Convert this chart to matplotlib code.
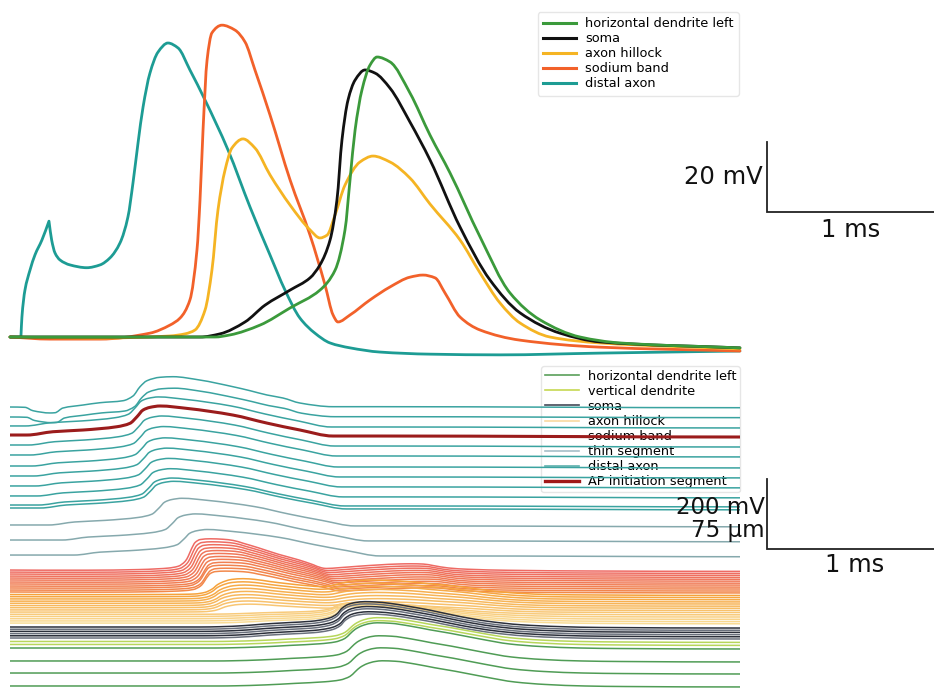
import numpy as np
import matplotlib.pyplot as plt
import matplotlib.colors as mcolors
from matplotlib.lines import Line2D
from matplotlib.path import Path
from matplotlib.patches import PathPatch, Rectangle

''' Membrane potential in five compartments (time in ms, voltage in mV) '''
dend_t = [0.000, 1.220, 1.310, 1.488, 1.667, 1.845, 1.935, 1.994, 2.024, 2.054,
          2.095, 2.143, 2.185, 2.262, 2.381, 2.500, 2.619, 2.798, 2.976, 3.155,
          3.393, 3.631, 4.345]
dend_v = [-70.0, -70.0, -69.4, -66.6, -61.7, -56.6, -50.9, -39.4, -25.1, -10.9,
          0.6, 7.7, 10.0, 8.6, -0.3, -12.3, -23.1, -41.4, -57.4, -65.1,
          -70.0, -71.7, -73.1]

soma_t = [0.000, 1.131, 1.250, 1.399, 1.518, 1.667, 1.786, 1.845, 1.905, 1.946,
          1.976, 2.012, 2.054, 2.113, 2.173, 2.262, 2.381, 2.500, 2.679, 2.857,
          3.036, 3.274, 3.512, 4.345]
soma_v = [-70.0, -70.0, -69.1, -65.7, -60.9, -56.6, -53.1, -49.4, -42.3, -30.9,
          -13.7, -2.3, 3.4, 6.3, 5.4, 1.1, -8.6, -19.4, -38.6, -53.7,
          -63.1, -68.9, -71.4, -73.1]

hillock_t = [0.000, 0.536, 0.952, 1.042, 1.101, 1.161, 1.202, 1.238, 1.280, 1.321,
             1.387, 1.458, 1.548, 1.667, 1.786, 1.845, 1.887, 1.935, 1.994, 2.083,
             2.161, 2.262, 2.381, 2.500, 2.679, 2.798, 2.917, 3.036, 3.214, 3.512,
             4.345]
hillock_v = [-70.0, -70.3, -69.7, -69.1, -68.0, -62.3, -50.9, -33.7, -22.3, -16.0,
             -13.4, -16.0, -23.7, -32.3, -39.4, -41.7, -40.9, -35.1, -26.6, -20.0,
             -18.3, -20.0, -24.6, -32.0, -42.3, -51.7, -60.3, -66.0, -70.0, -71.7,
             -73.4]

sodium_t = [0.000, 0.238, 0.536, 0.833, 0.952, 1.012, 1.071, 1.113, 1.131, 1.149,
            1.173, 1.202, 1.262, 1.339, 1.399, 1.458, 1.548, 1.667, 1.786, 1.875,
            1.923, 1.952, 2.024, 2.143, 2.262, 2.381, 2.458, 2.530, 2.589, 2.679,
            2.798, 3.036, 3.512, 4.345]
sodium_v = [-70.0, -70.6, -70.6, -68.9, -66.6, -64.6, -59.4, -45.1, -30.9, -10.9,
            9.1, 16.9, 19.1, 17.7, 14.3, 6.3, -6.6, -25.1, -40.9, -55.1,
            -63.7, -65.7, -63.7, -59.4, -55.7, -52.9, -52.3, -53.1, -57.4, -64.3,
            -68.0, -70.9, -72.9, -74.0]

distal_t = [0.000, 0.065, 0.071, 0.089, 0.119, 0.149, 0.190, 0.232, 0.248, 0.268,
            0.298, 0.357, 0.457, 0.536, 0.595, 0.655, 0.702, 0.732, 0.762, 0.792,
            0.833, 0.881, 0.940, 1.000, 1.071, 1.161, 1.298, 1.429, 1.548, 1.637,
            1.726, 1.815, 1.905, 2.024, 2.202, 2.500, 2.917, 3.512, 4.345]
distal_v = [-70.0, -70.0, -64.3, -56.6, -50.9, -46.5, -42.3, -36.9, -42.3, -46.0,
            -48.0, -49.4, -50.2, -49.4, -47.4, -43.1, -35.7, -26.0, -14.6, -4.3,
            5.4, 11.4, 14.0, 12.6, 6.3, -2.3, -16.6, -32.9, -46.6, -56.6,
            -64.6, -68.9, -71.7, -73.1, -74.3, -74.9, -75.1, -74.6, -74.0]
distal_kinks = [1, 7]   # stimulus onset and the spikelet tip

v_rest = -70.0

# Axonal compartments above the initiation site (deflection from rest, mV)
far_axon_t = [0.000, 0.089, 0.137, 0.238, 0.268, 0.315, 0.435, 0.536, 0.673, 0.732,
              0.774, 0.815, 0.893, 0.970, 1.131, 1.327, 1.429, 1.530, 1.625, 1.726,
              1.923, 2.202, 4.345]
far_axon_dv = [0.0, -0.9, -10.6, -17.0, -16.3, -2.9, 5.7, 12.3, 18.0, 31.4,
               58.0, 75.1, 84.9, 86.6, 77.0, 58.0, 46.6, 34.3, 25.7, 11.4,
               0.9, 0.9, -2.0]

init_t = [0.000, 0.101, 0.256, 0.435, 0.637, 0.714, 0.756, 0.792, 0.833, 0.893,
          1.054, 1.327, 1.530, 1.726, 1.923, 2.202, 4.345]
init_dv = [0.0, 0.0, 9.4, 14.3, 23.7, 33.4, 52.3, 71.4, 79.0, 82.9,
           76.0, 57.0, 34.0, 14.3, -2.9, -2.9, -5.7]

# Compartments along the cell: region, position (um), waveform, delay (ms), gain
comp_region = (['distal axon'] * 3 + ['AP initiation segment'] + ['distal axon'] * 8
               + ['thin segment'] * 3 + ['sodium band'] * 12 + ['axon hillock'] * 14
               + ['soma'] * 6 + ['vertical dendrite'] * 2
               + ['horizontal dendrite left'] * 4)
comp_pos = [310.7, 300.0, 290.4, 280.7, 270.0, 259.3, 247.5, 236.8, 226.1, 215.4,
            205.7, 202.5,
            184.3, 168.2, 152.1,
            136.1, 133.9, 131.8, 129.6, 127.5, 125.4, 123.2, 121.1, 118.9, 116.8,
            114.6, 112.5,
            109.8, 107.5, 105.1, 102.7, 100.4, 98.0, 95.7, 93.3, 91.0, 88.6,
            86.3, 83.9, 81.5, 79.2,
            75.0, 72.6, 70.3, 67.9, 65.6, 63.2,
            59.5, 56.3,
            52.5, 38.6, 25.7, 11.8]
comp_wave = (['far axon'] * 2 + ['initiation'] * 13 + ['sodium band'] * 12
             + ['axon hillock'] * 9 + ['soma'] * 5 + ['soma'] * 6
             + ['dendrite'] * 6)
comp_delay = [0.00, 0.01, -0.01, 0.00, 0.01, 0.02, 0.03, 0.04, 0.05, 0.06,
              0.07, 0.08,
              0.13, 0.21, 0.28,
              -0.07, -0.06, -0.05, -0.04, -0.03, -0.02, -0.01, 0.00, 0.01, 0.01,
              0.02, 0.02,
              0.00, 0.00, 0.01, 0.01, 0.02, 0.02, 0.03, 0.03, 0.04,
              -0.03, -0.03, -0.02, -0.02, -0.01,
              0.00, 0.00, 0.01, 0.01, 0.02, 0.02,
              0.00, 0.00,
              0.00, 0.01, 0.02, 0.03]
comp_gain = [1.00, 0.95, 1.00, 1.00, 1.00, 0.98, 0.97, 0.96, 0.95, 0.94,
             0.93, 0.92,
             0.92, 0.90, 0.88,
             1.00, 0.97, 0.94, 0.91, 0.88, 0.85, 0.82, 0.79, 0.76, 0.73,
             0.70, 0.67,
             0.80, 0.75, 0.70, 0.65, 0.60, 0.55, 0.50, 0.45, 0.40,
             0.45, 0.50, 0.55, 0.60, 0.65,
             0.95, 0.95, 0.93, 0.93, 0.90, 0.90,
             0.85, 0.85,
             0.90, 0.90, 0.90, 0.90]

waves = {
    'far axon': (far_axon_t, far_axon_dv),
    'initiation': (init_t, init_dv),
    'sodium band': (sodium_t, np.array(sodium_v) - v_rest),
    'axon hillock': (hillock_t, np.array(hillock_v) - v_rest),
    'soma': (soma_t, np.array(soma_v) - v_rest),
    'dendrite': (dend_t, np.array(dend_v) - v_rest),
}

''' Styles '''
top_colors = {'horizontal dendrite left': '#3b9a3b', 'soma': '#111111',
              'axon hillock': '#f5b423', 'sodium band': '#f2612a',
              'distal axon': '#1d9c94'}
region_colors = {'horizontal dendrite left': ('#4f9c55', '#4f9c55'),
                 'vertical dendrite': ('#b7d65a', '#b7d65a'),
                 'soma': ('#2b2f3a', '#6a707c'),
                 'axon hillock': ('#f6a23a', '#f9dc96'),
                 'sodium band': ('#ee6a64', '#f2884a'),
                 'thin segment': ('#86a9ad', '#86a9ad'),
                 'distal axon': ('#3aa3a0', '#3aa3a0'),
                 'AP initiation segment': ('#9b1c1c', '#9b1c1c')}
legend_colors = {'horizontal dendrite left': '#5aa05a',
                 'vertical dendrite': '#c6d852',
                 'soma': '#444a58', 'axon hillock': '#f9d9a0',
                 'sodium band': '#ef6f60', 'thin segment': '#a6bfc8',
                 'distal axon': '#5fb0ad', 'AP initiation segment': '#a01818'}

um_per_mv = 75 / 200   # vertical scale of the voltage traces in the lower panel
t_end = 4.345


''' Functions '''
def smooth_path(x, y, kinks=()):
    # Cubic Bezier through every sample, monotone (PCHIP style) tangents;
    # at kink samples the curve keeps the slopes of its two neighbouring chords
    x = np.asarray(x, dtype=float)
    y = np.asarray(y, dtype=float)
    h = np.diff(x)
    d = np.diff(y) / h
    m = np.zeros_like(y)
    m[0], m[-1] = d[0], d[-1]
    for k in range(1, len(y) - 1):
        if d[k - 1] * d[k] > 0:
            w1 = 2 * h[k] + h[k - 1]
            w2 = h[k] + 2 * h[k - 1]
            m[k] = (w1 + w2) / (w1 / d[k - 1] + w2 / d[k])
    m_in, m_out = m.copy(), m.copy()
    for k in kinks:
        m_in[k], m_out[k] = d[k - 1], d[k]
    verts = [(x[0], y[0])]
    codes = [Path.MOVETO]
    for k in range(len(x) - 1):
        verts += [(x[k] + h[k] / 3, y[k] + m_out[k] * h[k] / 3),
                  (x[k + 1] - h[k] / 3, y[k + 1] - m_in[k + 1] * h[k] / 3),
                  (x[k + 1], y[k + 1])]
        codes += [Path.CURVE4] * 3
    return Path(verts, codes)


def draw_trace(ax, x, y, color, lw, zorder=2, kinks=()):
    patch = PathPatch(smooth_path(x, y, kinks), fill=False, edgecolor=color,
                      lw=lw, zorder=zorder, joinstyle='round', capstyle='round')
    ax.add_patch(patch)
    return patch


fig = plt.figure(figsize=(9.34, 6.97), dpi=100)
ax_top = fig.add_axes([0, 0.4835, 1, 0.5165])
ax_bot = fig.add_axes([0, 0, 1, 0.4835])

''' Upper panel: voltage traces '''
top_traces = [('horizontal dendrite left', dend_t, dend_v),
              ('soma', soma_t, soma_v),
              ('axon hillock', hillock_t, hillock_v),
              ('sodium band', sodium_t, sodium_v),
              ('distal axon', distal_t, distal_v)]
z_order = {'distal axon': 2, 'sodium band': 3, 'axon hillock': 4,
           'soma': 5, 'horizontal dendrite left': 6}
for name, t, v in top_traces:
    draw_trace(ax_top, t, v, top_colors[name], 2.0, z_order[name],
               kinks=distal_kinks if name == 'distal axon' else ())

ax_top.set_xlim(-0.0595, 5.5)
ax_top.set_ylim(-76.57, 26.29)
ax_top.axis('off')

top_handles = [Line2D([], [], color=top_colors[n], lw=2.2) for n, _, _ in top_traces]
ax_top.legend(top_handles, [n for n, _, _ in top_traces], loc='upper right',
              bbox_to_anchor=(739 / 934, 1 - 12 / 360),
              bbox_transform=ax_top.transAxes, borderaxespad=0, fontsize=9.3,
              handlelength=2.6, labelspacing=0.16, borderpad=0.4,
              handletextpad=0.7, framealpha=1.0, edgecolor='#e6e6e6')

# 20 mV / 1 ms scale bar
bar_t, bar_v = 4.506, -34.3
ax_top.plot([bar_t, bar_t, bar_t + 1.0], [bar_v + 20, bar_v, bar_v],
            color='#222222', lw=1.3, solid_joinstyle='miter')
ax_top.text(bar_t - 0.024, bar_v + 10, '20 mV', ha='right', va='center',
            fontsize=17.5, color='#111111')
ax_top.text(bar_t + 0.5, bar_v - 5.2, '1 ms', ha='center', va='center',
            fontsize=17.5, color='#111111')

''' Lower panel: traces stacked by compartment position '''
clip = Rectangle((0, -50), t_end, 500, transform=ax_bot.transData)
region_count = {r: comp_region.count(r) for r in set(comp_region)}
region_seen = {r: 0 for r in region_count}

for region, pos, wave, delay, gain in zip(comp_region, comp_pos, comp_wave,
                                          comp_delay, comp_gain):
    t, dv = waves[wave]
    t = np.concatenate([[-1.0], np.asarray(t) + delay, [t_end + 1.0]])
    dv = np.asarray(dv, dtype=float)
    dv = np.concatenate([[dv[0]], dv, [dv[-1]]])

    k = region_seen[region]
    n = region_count[region]
    region_seen[region] += 1
    c0, c1 = region_colors[region]
    if region == 'soma':
        color = c0 if k % 2 == 0 else c1
    else:
        frac = k / max(n - 1, 1)
        color = tuple((1 - frac) * np.array(mcolors.to_rgb(c0))
                      + frac * np.array(mcolors.to_rgb(c1)))

    thick = region == 'AP initiation segment'
    patch = draw_trace(ax_bot, t, pos + gain * dv * um_per_mv, color,
                       2.2 if thick else 1.1, 3 if thick else 2)
    patch.set_clip_path(clip)

ax_bot.set_xlim(-0.0595, 5.5)
ax_bot.set_ylim(0, 361.07)
ax_bot.axis('off')

legend_order = ['horizontal dendrite left', 'vertical dendrite', 'soma',
                'axon hillock', 'sodium band', 'thin segment', 'distal axon',
                'AP initiation segment']
handles = [Line2D([], [], color=legend_colors[r],
                  lw=2.4 if r == 'AP initiation segment' else 1.2)
           for r in legend_order]
leg2 = ax_bot.legend(handles, legend_order, loc='upper right',
                     bbox_to_anchor=(740 / 934, 1 - 6 / 337),
                     bbox_transform=ax_bot.transAxes, borderaxespad=0,
                     fontsize=9.3, handlelength=2.6, labelspacing=0.16,
                     borderpad=0.3, handletextpad=0.7, framealpha=1.0,
                     edgecolor='#e6e6e6')
leg2.set_zorder(1)

# 200 mV (75 um) / 1 ms scale bar
bar_u = 158.6
ax_bot.plot([bar_t, bar_t, bar_t + 1.0], [bar_u + 75, bar_u, bar_u],
            color='#222222', lw=1.3, solid_joinstyle='miter', zorder=4)
ax_bot.text(bar_t - 0.012, 202.5, '200 mV', ha='right', va='center',
            fontsize=16.5, color='#111111', zorder=5)
ax_bot.text(bar_t - 0.012, 178.9, '75 \u00b5m', ha='right', va='center',
            fontsize=16.5, color='#111111', zorder=5)
ax_bot.text(bar_t + 0.52, 141.4, '1 ms', ha='center', va='center',
            fontsize=17.5, color='#111111', zorder=5)

fig.savefig('out.png', dpi=100, facecolor='white')
